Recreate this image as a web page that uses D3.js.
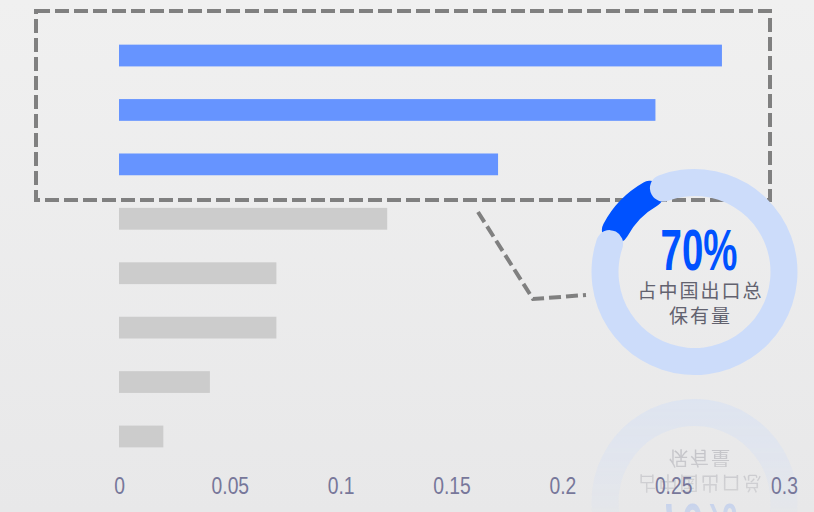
<!DOCTYPE html>
<html>
<head>
<meta charset="utf-8" />
<title>出口占比</title>
<script src="https://d3js.org/d3.v7.min.js"></script>
<style>
  body { margin: 0; }
  svg { display: block; }
  .tick text { font-family: "Liberation Sans", Arial, sans-serif; }
</style>
</head>
<body>
<svg id="chart"></svg>
<script>
// data
var categories = ["c1", "c2", "c3", "c4", "c5", "c6", "c7", "c8"];
var values = [0.272, 0.242, 0.171, 0.121, 0.071, 0.071, 0.041, 0.020];
var highlighted = 3;                 // first 3 bars are blue (inside the box)
var tickValues = [0, 0.05, 0.1, 0.15, 0.2, 0.25, 0.3];
var tickLabels = ["0", "0.05", "0.1", "0.15", "0.2", "0.25", "0.3"];
var shareText = "70%";
var shareLabel = ["占中国出口总", "保有量"];
var ringSlices = [90.6, 9.4];        // light track / visible accent (percent of circle)

var width = 814, height = 512;
var svg = d3.select("#chart").attr("width", width).attr("height", height);
var defs = svg.append("defs");

// background
var bg = defs.append("linearGradient").attr("id", "bg")
  .attr("x1", 0).attr("y1", 0).attr("x2", 0).attr("y2", 1);
bg.append("stop").attr("offset", "0%").attr("stop-color", "#f0f0f0");
bg.append("stop").attr("offset", "100%").attr("stop-color", "#e8e8e9");
svg.append("rect").attr("width", width).attr("height", height).attr("fill", "url(#bg)");

// scales
var x = d3.scaleLinear().domain([0, 0.3]).range([119, 784]);
var y = d3.scaleBand().domain(categories).range([12, 480])
  .paddingInner(0.6).paddingOuter(0.6);

// bars
svg.append("g").selectAll("rect")
  .data(values)
  .join("rect")
  .attr("x", x(0))
  .attr("y", function(d, i) { return y(categories[i]); })
  .attr("width", function(d) { return x(d) - x(0); })
  .attr("height", y.bandwidth())
  .attr("fill", function(d, i) { return i < highlighted ? "#6694ff" : "#cccccc"; });

// x axis, labels only (narrow look)
var xAxis = d3.axisBottom(x)
  .tickValues(tickValues)
  .tickSize(0)
  .tickPadding(0)
  .tickFormat(function(d, i) { return tickLabels[i]; });
var gx = svg.append("g").attr("transform", "translate(0,478)").call(xAxis);
gx.select(".domain").remove();
gx.selectAll("text")
  .attr("fill", "#77779a")
  .attr("font-size", 23)
  .attr("transform", "scale(0.84,1)");

// dashed callout box + connector
svg.append("rect")
  .attr("x", 36).attr("y", 11).attr("width", 734).attr("height", 189)
  .attr("fill", "none").attr("stroke", "#808080")
  .attr("stroke-width", 4).attr("stroke-dasharray", "14 5");
svg.append("path")
  .attr("d", d3.line()([[478, 212], [533, 299], [586, 295]]))
  .attr("fill", "none").attr("stroke", "#808080")
  .attr("stroke-width", 4).attr("stroke-dasharray", "12 5");

// donut
var cx = 694.5, cy = 272, rOut = 103, rIn = 76;
var pie = d3.pie().sort(null)
  .startAngle(-29 * Math.PI / 180)
  .endAngle(331 * Math.PI / 180);
var slices = pie(ringSlices);

function drawDonut(g) {
  var rounded = d3.arc().innerRadius(rIn).outerRadius(rOut).cornerRadius((rOut - rIn) / 2);
  var ext = 8 * Math.PI / 180;
  var ring = g.append("g").attr("transform", "translate(" + cx + "," + cy + ")");
  // accent arc reaches under the caps of the track
  ring.append("path")
    .attr("d", rounded({ startAngle: slices[1].startAngle - ext, endAngle: slices[1].endAngle + ext }))
    .attr("fill", "#0052ff");
  ring.append("path").attr("d", rounded(slices[0])).attr("fill", "#ccdcfa");

  g.append("text")
    .attr("transform", "translate(" + (cx + 4.5) + ",270) scale(0.8,1.19)")
    .attr("text-anchor", "middle")
    .attr("font-family", "'Liberation Sans', Arial, sans-serif")
    .attr("font-weight", "bold")
    .attr("font-size", 48)
    .attr("fill", "#0052ff")
    .text(shareText);

  g.selectAll("text.lbl")
    .data(shareLabel)
    .join("text")
    .attr("class", "lbl")
    .attr("x", cx + 6)
    .attr("y", function(d, i) { return 298 + i * 25; })
    .attr("text-anchor", "middle")
    .attr("font-family", "'Noto Sans CJK SC', sans-serif")
    .attr("font-size", 19)
    .attr("letter-spacing", 2)
    .attr("fill", "#62626f")
    .text(function(d) { return d; });
}

drawDonut(svg.append("g"));

// faded reflection of the donut
var fade = defs.append("linearGradient").attr("id", "fade")
  .attr("gradientUnits", "userSpaceOnUse")
  .attr("x1", 0).attr("y1", 387).attr("x2", 0).attr("y2", 512);
fade.append("stop").attr("offset", "0%").attr("stop-color", "#fff").attr("stop-opacity", 0.42);
fade.append("stop").attr("offset", "100%").attr("stop-color", "#fff").attr("stop-opacity", 0.12);
defs.append("mask").attr("id", "reflMask")
  .attr("maskUnits", "userSpaceOnUse")
  .attr("x", 0).attr("y", 0).attr("width", width).attr("height", height)
  .append("rect").attr("x", 0).attr("y", 387).attr("width", width).attr("height", 130)
  .attr("fill", "url(#fade)");

var refl = svg.append("g").attr("mask", "url(#reflMask)")
  .append("g").attr("transform", "translate(0," + (2 * 387) + ") scale(1,-1)");
drawDonut(refl);

// axis labels on top of the reflection
gx.raise();
</script>
</body>
</html>
